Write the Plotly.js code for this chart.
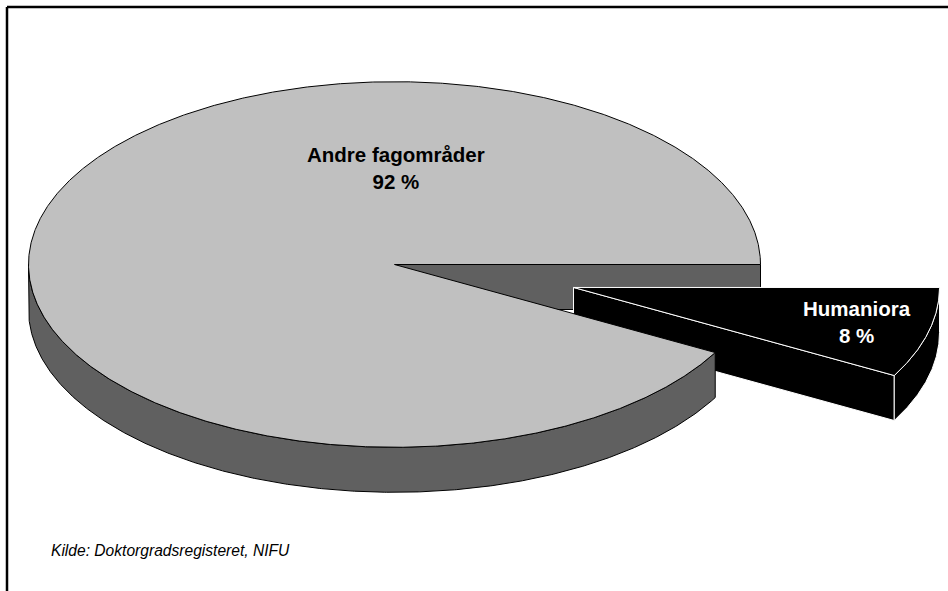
<!DOCTYPE html>
<html>
<head>
<meta charset="utf-8">
<script src="https://cdn.plot.ly/plotly-3.0.1.min.js"></script>
<style>
  html, body { margin: 0; padding: 0; background: #ffffff; }
  #chart { width: 948px; height: 591px; }
</style>
</head>
<body>
<div id="chart"></div>
<script>
// ---- data (slice order starts at 3 o'clock, clockwise) ----
const categories = ['Humaniora', 'Andre fagområder'];
const values = [8, 92];
const percentLabels = ['8 %', '92 %'];
const sourceText = 'Kilde: Doktorgradsregisteret, NIFU';

// ---- styling / geometry ----
const topColors = ['#000000', '#C0C0C0'];
const sideColors = ['#000000', '#606060'];
const edgeColors = ['#FFFFFF', '#000000'];
const pulls = [0.505, 0];
const CX = 394.5, CY = 264.5, RX = 366, RY = 182.8, DEPTH = 45;
const labelPos = [[857, 322], [396, 168]];
const labelColors = ['#FFFFFF', '#000000'];

const total = values.reduce((a, b) => a + b, 0);
const slices = [];
let acc = 0;
values.forEach((v, i) => {
  const a = 2 * Math.PI * acc / total;
  acc += v;
  const b = 2 * Math.PI * acc / total;
  const mid = (a + b) / 2;
  const ox = pulls[i] * RX * Math.cos(mid);
  const oy = pulls[i] * RY * Math.sin(mid);
  slices.push({ a, b, ox, oy, i });
});

function pt(t, s, dz) {
  return [CX + s.ox + RX * Math.cos(t), CY + s.oy + RY * Math.sin(t) + dz];
}
function arcPts(t0, t1, s, dz) {
  const n = Math.max(2, Math.ceil(Math.abs(t1 - t0) / (Math.PI / 720)));
  const out = [];
  for (let k = 0; k <= n; k++) out.push(pt(t0 + (t1 - t0) * k / n, s, dz));
  return out;
}
function poly(points, fill, line) {
  const x = points.map(p => p[0]); x.push(points[0][0]);
  const y = points.map(p => p[1]); y.push(points[0][1]);
  return { type: 'scatter', mode: 'lines', x, y, fill: 'toself', fillcolor: fill,
           line: { color: line, width: 1 }, hoverinfo: 'skip', showlegend: false };
}
function centre(s, dz) { return [CX + s.ox, CY + s.oy + dz]; }

function radialFace(s, t) {
  return poly([centre(s, 0), pt(t, s, 0), pt(t, s, DEPTH), centre(s, DEPTH)],
              sideColors[s.i], edgeColors[s.i]);
}
function sideFace(s) {
  const t0 = Math.max(s.a, 0), t1 = Math.min(s.b, Math.PI);
  if (t1 <= t0) return null;
  const pts = arcPts(t0, t1, s, 0).concat(arcPts(t1, t0, s, DEPTH));
  return poly(pts, sideColors[s.i], edgeColors[s.i]);
}
function topFace(s) {
  return poly([centre(s, 0)].concat(arcPts(s.a, s.b, s, 0)), topColors[s.i], edgeColors[s.i]);
}
function visibleRadial(s) {
  const faces = [];
  if (Math.cos(s.a) < 0) faces.push(radialFace(s, s.a));
  if (Math.cos(s.b) > 0) faces.push(radialFace(s, s.b));
  return faces;
}

const hum = slices[0], rest = slices[1];
const traces = [];
// back faces of the big slice first
visibleRadial(rest).forEach(f => traces.push(f));
// exploded slice
visibleRadial(hum).forEach(f => traces.push(f));
[sideFace(hum), topFace(hum)].forEach(f => f && traces.push(f));
// big slice in front
[sideFace(rest), topFace(rest)].forEach(f => f && traces.push(f));

const annotations = slices.map(s => ({
  x: labelPos[s.i][0], y: labelPos[s.i][1], xref: 'x', yref: 'y',
  text: categories[s.i] + '<br>' + percentLabels[s.i],
  showarrow: false, xanchor: 'center', yanchor: 'middle', align: 'center',
  font: { family: 'Liberation Sans, Arial, sans-serif', size: 20.5, color: labelColors[s.i], weight: 'bold' }
}));
annotations.push({
  x: 49, y: 550, xref: 'x', yref: 'y', text: '<i>' + sourceText + '</i>',
  showarrow: false, xanchor: 'left', yanchor: 'middle',
  font: { family: 'Liberation Sans, Arial, sans-serif', size: 15.6, color: '#000000' }
});

const layout = {
  width: 948, height: 591,
  margin: { l: 0, r: 0, t: 0, b: 0 },
  paper_bgcolor: '#ffffff', plot_bgcolor: '#ffffff',
  xaxis: { range: [0, 948], visible: false, fixedrange: true },
  yaxis: { range: [591, 0], visible: false, fixedrange: true },
  showlegend: false,
  annotations,
  shapes: [
    { type: 'line', xref: 'x', yref: 'y', x0: 7, x1: 960, y0: 7, y1: 7, line: { color: '#000000', width: 2.5 } },
    { type: 'line', xref: 'x', yref: 'y', x0: 7, x1: 7, y0: 7, y1: 600, line: { color: '#000000', width: 2.5 } }
  ]
};

Plotly.newPlot('chart', traces, layout, { staticPlot: true, displayModeBar: false });
</script>
</body>
</html>
